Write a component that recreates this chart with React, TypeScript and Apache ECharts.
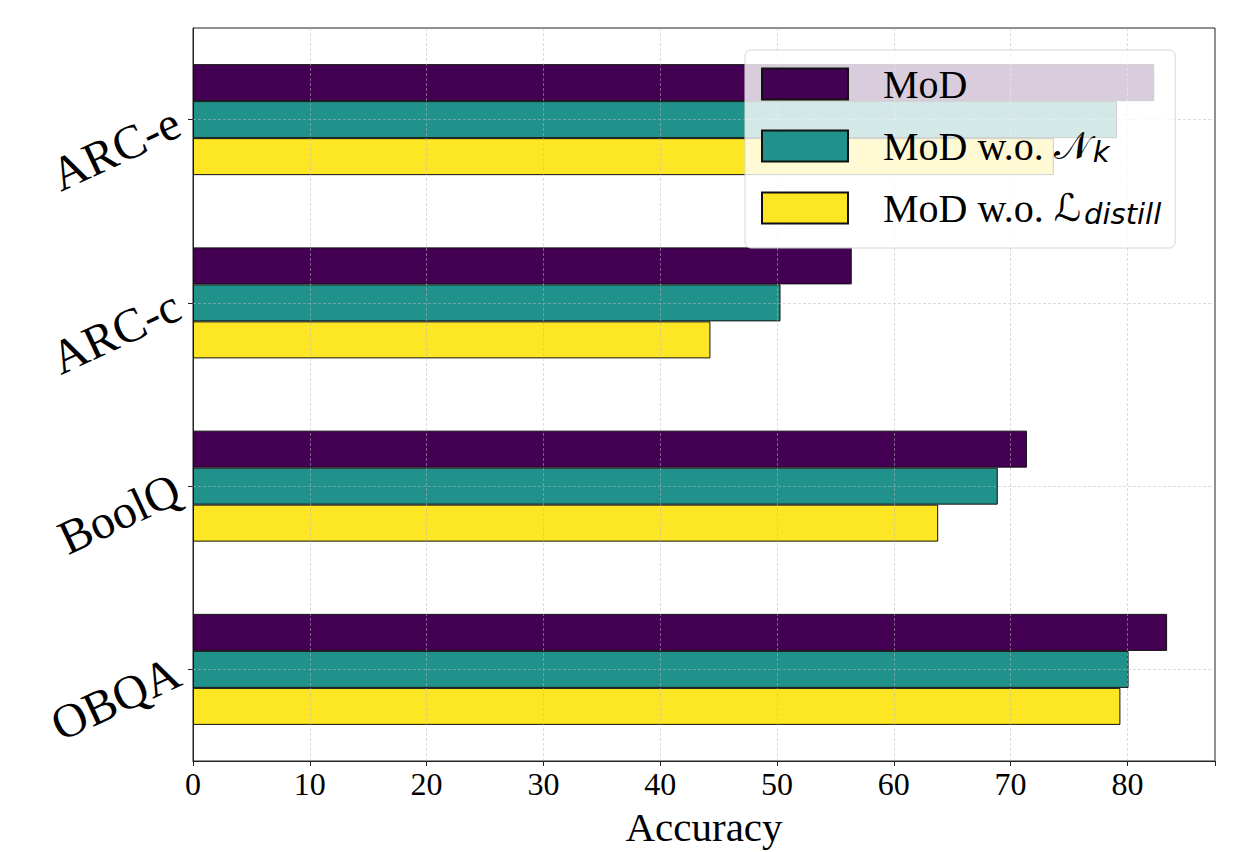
import React, { useEffect, useRef } from "react";
import * as echarts from "echarts";

const categories = ["OBQA", "BoolQ", "ARC-c", "ARC-e"];
const seriesNames = ["MoD", "MoD w.o. Nk", "MoD w.o. Ldistill"];
const modValues = [83.4, 71.4, 56.4, 82.3];
const noNkValues = [80.1, 68.9, 50.3, 79.1];
const noDistillValues = [79.4, 63.8, 44.3, 73.7];
const xTicks = [10, 20, 30, 40, 50, 60, 70, 80];
const colors = ["#440154", "#21918c", "#fde725"];

export default function App() {
  const ref = useRef<HTMLDivElement>(null);
  useEffect(() => {
    if (!ref.current) return;
    const chart = echarts.init(ref.current, null, { renderer: "svg" });
    const serif = "'Liberation Serif', 'Times New Roman', serif";
    const values = [modValues, noNkValues, noDistillValues];
    const gridLine = {
      type: [3, 2] as any,
      color: "rgba(185,185,185,0.5)",
      width: 1,
    };
    const series: any[] = seriesNames.map((name, i) => ({
      name,
      type: "bar",
      data: values[i],
      barWidth: 37,
      barGap: "0%",
      itemStyle: { color: colors[i], borderColor: "#111", borderWidth: 1 },
    }));
    series.push({
      type: "line",
      name: "grid",
      data: [],
      z: 3,
      silent: true,
      markLine: {
        silent: true,
        symbol: ["none", "none"],
        label: { show: false },
        lineStyle: gridLine,
        data: [
          ...xTicks.map((v) => ({ xAxis: v })),
          ...categories.map((c) => ({ yAxis: c })),
        ],
      },
    });
    chart.setOption({
      animation: false,
      backgroundColor: "#fff",
      grid: {
        left: 193,
        right: 19,
        top: 28,
        bottom: 91,
        outerBoundsMode: "none",
        containLabel: false,
        show: true,
        borderColor: "#222",
        borderWidth: 1,
        backgroundColor: "transparent",
      },
      legend: {
        data: seriesNames,
        orient: "vertical",
        left: 745,
        top: 50,
        width: 448,
        padding: [14, 14, 20, 16],
        itemWidth: 86,
        itemHeight: 31,
        itemGap: 22,
        icon: "rect",
        backgroundColor: "rgba(255,255,255,0.8)",
        borderColor: "#d6d6d6",
        borderWidth: 1,
        borderRadius: 6,
        z: 10,
        formatter: (name: string) => {
          if (name === "MoD w.o. Nk") return "{t|MoD w.o. }{m|𝒩}{s|k}";
          if (name === "MoD w.o. Ldistill") return "{t|MoD w.o. }{m|ℒ}{s|distill}";
          return "{t|MoD}";
        },
        textStyle: {
          padding: [0, 0, 0, 30],
          rich: {
            t: { fontFamily: serif, fontSize: 40, color: "#000", lineHeight: 40 },
            m: {
              fontFamily: "'DejaVu Sans', 'DejaVu Serif', serif",
              fontStyle: "normal",
              fontSize: 38,
              color: "#000",
              lineHeight: 40,
            },
            s: {
              fontFamily: "'DejaVu Sans', sans-serif",
              fontStyle: "italic",
              fontSize: 29,
              color: "#000",
              lineHeight: 18,
              padding: [0, 0, 0, 3],
              verticalAlign: "bottom",
            },
          },
        },
      },
      xAxis: {
        type: "value",
        min: 0,
        max: 87.5,
        interval: 10,
        name: "Accuracy",
        nameLocation: "middle",
        nameGap: 45,
        nameMoveOverlap: false,
        nameTextStyle: {
          fontFamily: serif,
          fontSize: 41,
          color: "#000",
          verticalAlign: "top",
        },
        axisLine: { show: true, lineStyle: { color: "#222", width: 1 } },
        axisTick: { show: true, length: 5, lineStyle: { color: "#222" } },
        splitLine: { show: false },
        axisLabel: {
          fontFamily: serif,
          fontSize: 32,
          color: "#000",
          margin: 7,
          formatter: (v: number) => (v % 10 === 0 ? String(v) : ""),
        },
      },
      yAxis: {
        type: "category",
        data: categories,
        axisLine: { show: true, lineStyle: { color: "#222", width: 1 } },
        axisTick: {
          show: true,
          alignWithLabel: true,
          length: 5,
          lineStyle: { color: "#222" },
        },
        splitLine: { show: false },
        axisLabel: {
          fontFamily: serif,
          fontSize: 48,
          color: "#000",
          rotate: 25,
          margin: 16,
        },
      },
      series,
    });
    return () => chart.dispose();
  }, []);
  return (
    <div
      ref={ref}
      style={{ position: "fixed", left: 0, top: 0, width: 1234, height: 852 }}
    />
  );
}
